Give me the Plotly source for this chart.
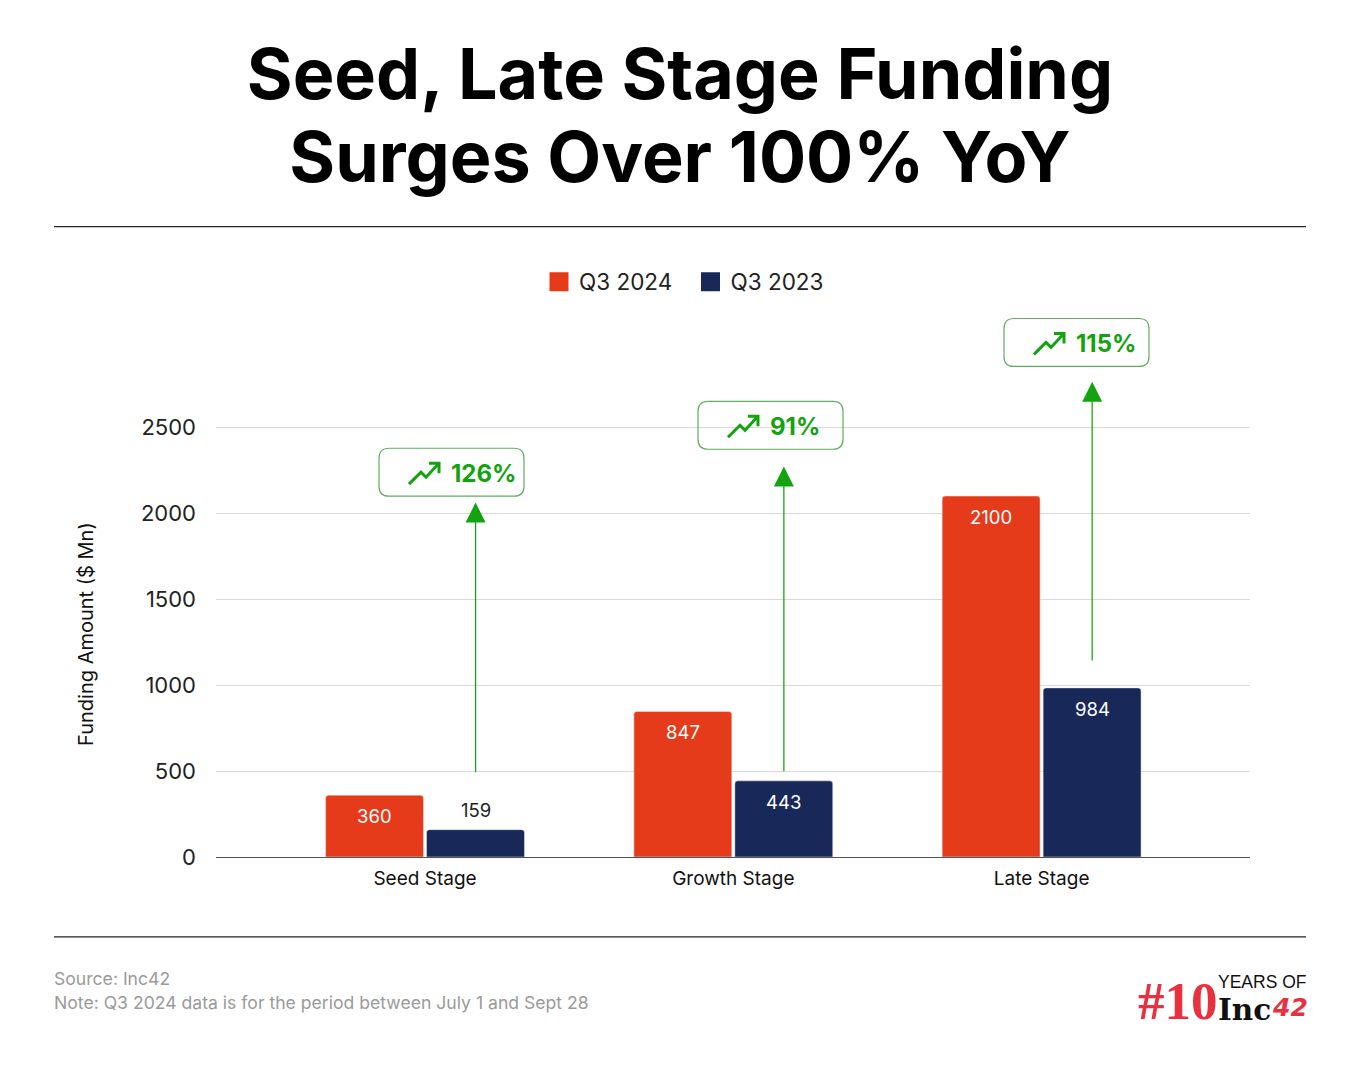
import plotly.graph_objects as go

stages = ["Seed Stage", "Growth Stage", "Late Stage"]
q3_2024 = [360, 847, 2100]
q3_2023 = [159, 443, 984]
growth_labels = ["126%", "91%", "115%"]
arrow_tail = [485, 490, 1135]
arrow_tip = [2062, 2272, 2765]
y_ticks = [0, 500, 1000, 1500, 2000, 2500]

RED = "#E53B1A"
NAVY = "#182858"
GREEN = "#12A30E"
PILL = "#5FAF5F"
FONT = "Inter"

L, R, T, B = 216, 1250, 306.5, 857.5
def px(x): return (x - L) / (R - L)
def py(y): return (B - y) / (B - T)

fig = go.Figure()
fig.add_bar(x=stages, y=q3_2024, name="Q3 2024", marker_color=RED, showlegend=False)
fig.add_bar(x=stages, y=q3_2023, name="Q3 2023", marker_color=NAVY, showlegend=False)
for name, color in [("Q3 2024", RED), ("Q3 2023", NAVY)]:
    fig.add_scatter(x=[None], y=[None], mode="markers", name=name,
                    marker=dict(symbol="square", size=16, color=color, line=dict(color=color, width=3)))

ann = []
shapes = []
BAR_OFFSET = 0.164
for i in range(3):
    ann.append(dict(x=i - BAR_OFFSET, y=q3_2024[i], yshift=-21, text=str(q3_2024[i]), showarrow=False,
                    font=dict(size=18.5, color="white", family=FONT)))
    inside = q3_2023[i] > 300
    ann.append(dict(x=i + BAR_OFFSET, y=q3_2023[i], yshift=-21 if inside else 20, text=str(q3_2023[i]), showarrow=False,
                    font=dict(size=18.5, color="white" if inside else "#222222", family=FONT)))
    ann.append(dict(x=i + BAR_OFFSET, y=arrow_tip[i], ax=i + BAR_OFFSET, ay=arrow_tail[i], xref="x", yref="y",
                    axref="x", ayref="y", text="", showarrow=True, arrowhead=2, arrowsize=3.2,
                    arrowwidth=1.25, arrowcolor=GREEN))

# growth pills: left/top corner in page pixels
pill_left = [379, 698, 1004]
pill_top = [448, 401, 318]
PW, PH, RAD = 145, 48, 10
for lab, x0, y0 in zip(growth_labels, pill_left, pill_top):
    x1, y1 = x0 + PW, y0 + PH
    X, Y = px, py
    k = RAD
    d = (f"M{X(x0+k)},{Y(y0)} L{X(x1-k)},{Y(y0)} Q{X(x1)},{Y(y0)} {X(x1)},{Y(y0+k)} "
         f"L{X(x1)},{Y(y1-k)} Q{X(x1)},{Y(y1)} {X(x1-k)},{Y(y1)} L{X(x0+k)},{Y(y1)} "
         f"Q{X(x0)},{Y(y1)} {X(x0)},{Y(y1-k)} L{X(x0)},{Y(y0+k)} Q{X(x0)},{Y(y0)} {X(x0+k)},{Y(y0)} Z")
    shapes.append(dict(type="path", xref="paper", yref="paper", path=d, line=dict(color=PILL, width=1.2), layer="above"))
    a = lambda dx, dy: f"{X(x0+dx)},{Y(y0+dy)}"
    shapes.append(dict(type="path", xref="paper", yref="paper", layer="above", line=dict(color=GREEN, width=3),
                       path=f"M{a(30,36)} L{a(42,24)} L{a(47,29)} L{a(59,16)} M{a(50,15)} L{a(60,15)} L{a(60,25)}"))
    ann.append(dict(x=px(x0 + 70), y=py(y0 + 25), xref="paper", yref="paper", xanchor="left", yanchor="middle",
                    text=f"<b>{lab}</b>", showarrow=False, font=dict(size=24, color=GREEN, family=FONT)))

# rules
for yy in (226, 937.5):
    shapes.append(dict(type="line", xref="paper", yref="paper", x0=px(54), x1=px(1306), y0=py(yy), y1=py(yy),
                       line=dict(color="#222222", width=1.3)))

def page_text(x, y, text, size, color, anchor="left", family=FONT, **kw):
    ann.append(dict(x=px(x), y=py(y), xref="paper", yref="paper", text=text, showarrow=False, xanchor=anchor,
                    yanchor="middle", font=dict(size=size, color=color, family=family), **kw))

page_text(86, 634, "Funding Amount ($ Mn)", 20, "#111111", anchor="center", textangle=-90)
page_text(52, 979, "Source: Inc42", 17.6, "#9A9A9A")
page_text(52, 1003, "Note: Q3 2024 data is for the period between July 1 and Sept 28", 17.6, "#9A9A9A")
page_text(1136, 1002, "<b>#10</b>", 53, "#E8303F", family="Liberation Serif")
page_text(1216, 983, "YEARS OF", 17.5, "#111111", family="Liberation Sans")
page_text(1216, 1010, "<b>Inc</b>", 29.5, "#111111", family="DejaVu Serif")
page_text(1270, 1008, "<b><i>42</i></b>", 25, "#E8303F", family="DejaVu Sans")

TITLE = ('<b><span style="font-size:70px">Seed, Late Stage Funding</span><br>'
         '<span style="font-size:70px">Surges Over 100% YoY</span></b>')

fig.update_layout(
    width=1360, height=1081, autosize=False,
    margin=dict(l=L, r=1360 - R, t=T, b=1081 - B, autoexpand=False),
    paper_bgcolor="white", plot_bgcolor="white",
    font=dict(family=FONT, color="#111111"),
    title=dict(text=TITLE, x=0.5, xanchor="center",
               y=1 - 99 / 1081, yanchor="top", font=dict(size=64, color="#000000", family=FONT)),
    barmode="group", bargap=0.345, bargroupgap=0.03, barcornerradius=3,
    legend=dict(orientation="h", x=px(539), y=py(260), xanchor="left", yanchor="top",
                font=dict(size=22.5, color="#222222", family=FONT), entrywidth=106.5, entrywidthmode="pixels",
                bgcolor="rgba(0,0,0,0)"),
    xaxis=dict(range=[-0.678, 2.676], type="category", categoryorder="array", categoryarray=stages,
               showgrid=False, showline=True, linecolor="#555555", linewidth=1.2, ticks="",
               tickfont=dict(size=19, color="#111111"), ticklabelstandoff=4),
    yaxis=dict(range=[0, 3200], tickvals=y_ticks, gridcolor="#D9D9D9", gridwidth=1, zeroline=False,
               showline=False, tickfont=dict(size=22, color="#222222"), ticklabelstandoff=19),
    annotations=ann, shapes=shapes,
)
fig.write_html("out.html", config={"displayModeBar": False}, post_script="document.body.style.margin='0';")
